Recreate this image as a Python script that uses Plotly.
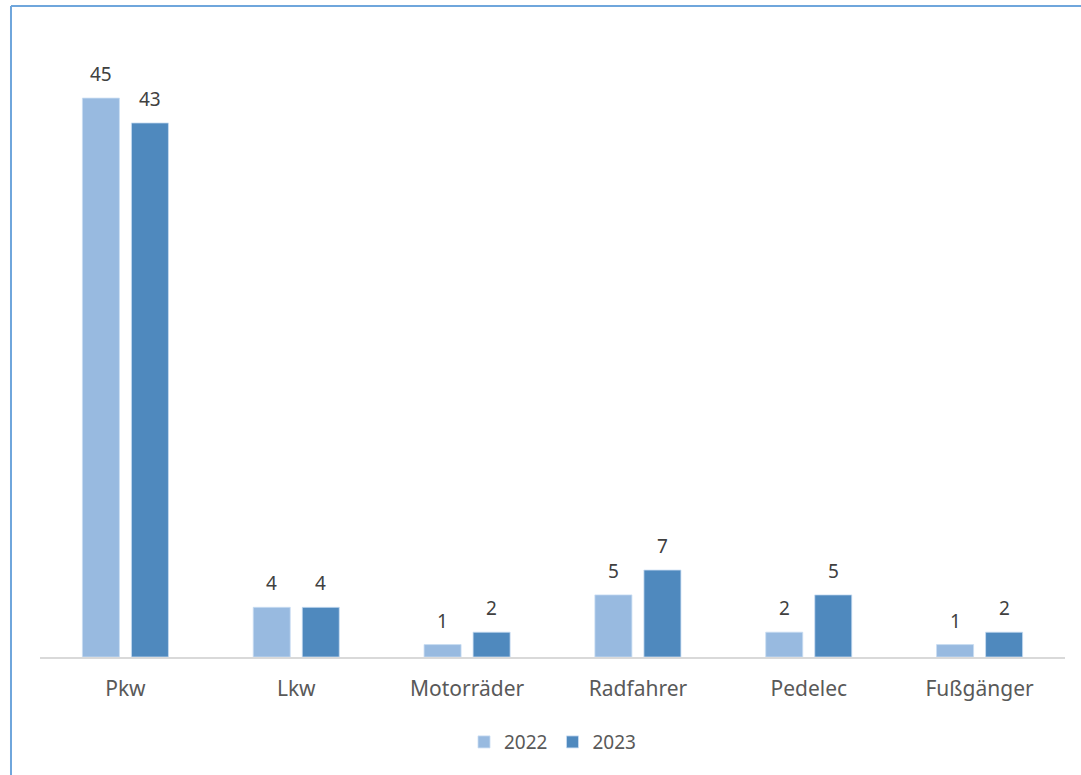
import plotly.graph_objects as go

categories = ["Pkw", "Lkw", "Motorräder", "Radfahrer", "Pedelec", "Fußgänger"]
values_2022 = [45, 4, 1, 5, 2, 1]
values_2023 = [43, 4, 2, 7, 5, 2]
series_names = ["2022", "2023"]
colors = ["#98BAE0", "#4F89BE"]

FONT = "Noto Sans, Open Sans, sans-serif"

fig = go.Figure()
for name, vals, col in zip(series_names, [values_2022, values_2023], colors):
    fig.add_trace(go.Bar(
        x=categories, y=vals, name=name,
        marker=dict(color=col, line=dict(color="#C9DDF2", width=0.8)),
    ))

# data labels above the bars
for i, (name, vals) in enumerate(zip(series_names, [values_2022, values_2023])):
    shift = -24.5 if i == 0 else 24.5
    for c, v in zip(categories, vals):
        fig.add_annotation(
            x=c, y=v, xref="x", yref="y", text=str(v), showarrow=False,
            xshift=shift, yshift=24, yanchor="middle",
            font=dict(family=FONT, size=19, color="#404040"),
        )

fig.update_layout(
    width=1081, height=775,
    margin=dict(l=40, r=16, t=36, b=118),
    paper_bgcolor="white", plot_bgcolor="white",
    barmode="group", bargap=0.426, bargroupgap=0.245,
    font=dict(family=FONT, color="#595959", size=19),
    showlegend=True,
    legend=dict(orientation="h", x=0.5, xanchor="center", y=-0.137, yanchor="middle",
                font=dict(size=19, color="#595959"), itemwidth=30, traceorder="normal"),
    xaxis=dict(showgrid=False, showline=True, linecolor="#D9D9D9", linewidth=2,
               ticks="", tickfont=dict(size=21, color="#595959"), ticklabelstandoff=12),
    yaxis=dict(range=[0, 50], visible=False, showgrid=False),
    shapes=[
        dict(type="line", xref="paper", yref="paper", x0=-0.0283, x1=1.1, y0=1.0483, y1=1.0483,
             line=dict(color="#6FA6DC", width=2)),
        dict(type="line", xref="paper", yref="paper", x0=-0.0283, x1=-0.0283, y0=1.0483, y1=-0.3,
             line=dict(color="#6FA6DC", width=2)),
    ],
)

fig.write_html("out.html", config={"displayModeBar": False},
               post_script="document.body.style.margin='0';")
